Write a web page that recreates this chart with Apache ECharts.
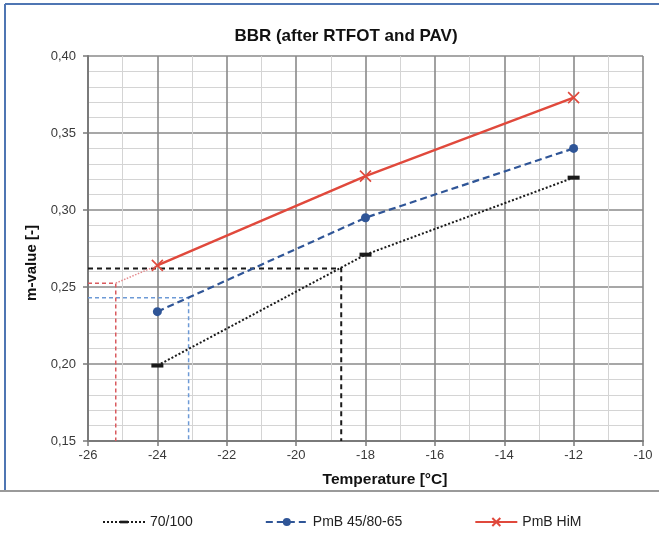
<!DOCTYPE html>
<html>
<head>
<meta charset="utf-8">
<title>BBR (after RTFOT and PAV)</title>
<script src="https://cdn.jsdelivr.net/npm/echarts@6/dist/echarts.min.js"></script>
<style>
  html, body { margin: 0; padding: 0; background: #fff; }
  #chart { width: 659px; height: 535px; }
</style>
</head>
<body>
<div id="chart"></div>
<script>
// Test temperatures (°C) and measured m-values per binder
const temperatures = [-24, -18, -12];
const m70_100 = [0.199, 0.271, 0.321];
const mPmB4580 = [0.234, 0.295, 0.340];
const mPmBHiM = [0.264, 0.322, 0.373];

// Read-off construction: temperature at which each binder reaches its critical m-value
const readOffNames = ['70/100', 'PmB 45/80-65', 'PmB HiM'];
const readOffTemp = [-18.7, -23.1, -25.2];
const readOffM = [0.262, 0.243, 0.2525];

// Axis ranges
const xMin = -26, xMax = -10, xStep = 2;
const yMin = 0.15, yMax = 0.40, yStep = 0.05;

const colBlack = '#1a1a1a';
const colBlue = '#2f5597';
const colRed = '#e0493c';
const helperColors = ['#1a1a1a', '#6d9ad6', '#d95a5e'];
const fontFamily = 'Liberation Sans, Arial, sans-serif';

function pairs(xs, ys) { return xs.map((x, i) => [x, ys[i]]); }

const mainSeries = [
  {
    name: '70/100', type: 'line', data: pairs(temperatures, m70_100),
    lineStyle: { color: colBlack, width: 2, type: 'dotted' },
    // flat dash marker centred in a square box (the extra moves pad the bounds)
    symbol: 'path://M0,0M12,12M0,4H12V8H0Z', symbolSize: 12,
    itemStyle: { color: colBlack }, z: 5
  },
  {
    name: 'PmB 45/80-65', type: 'line', data: pairs(temperatures, mPmB4580),
    lineStyle: { color: colBlue, width: 2.2, type: [7, 4] },
    symbol: 'circle', symbolSize: 9,
    itemStyle: { color: colBlue }, z: 5
  },
  {
    name: 'PmB HiM', type: 'line', data: pairs(temperatures, mPmBHiM),
    lineStyle: { color: colRed, width: 2.5, type: 'solid' },
    symbol: 'path://M0,0L10,10M10,0L0,10', symbolSize: 11, symbolKeepAspect: true,
    itemStyle: { color: colRed, borderColor: colRed, borderWidth: 1.6 }, z: 6
  }
];

// Dashed guide lines: from the y-axis across to the curve, then down to the x-axis
const helperSeries = readOffTemp.map((t, i) => ({
  name: readOffNames[i] + ' guide', type: 'line', silent: true, symbol: 'none',
  data: [[xMin, readOffM[i]], [t, readOffM[i]], [t, yMin]],
  lineStyle: { color: helperColors[i], width: i === 0 ? 2 : 1.5, type: i === 0 ? [5, 4] : [4, 3] },
  z: 3
}));

// Dotted extension of the PmB HiM curve down to its read-off point
helperSeries.push({
  name: 'PmB HiM extension', type: 'line', silent: true, symbol: 'none',
  data: [[readOffTemp[2], readOffM[2]], [temperatures[0], mPmBHiM[0]]],
  lineStyle: { color: '#e58a8d', width: 1.5, type: 'dotted' },
  z: 3
});

const chart = echarts.init(document.getElementById('chart'), null, { renderer: 'canvas' });

chart.setOption({
  backgroundColor: '#ffffff',
  animation: false,
  title: {
    text: 'BBR (after RTFOT and PAV)',
    left: 341, top: 23, textAlign: 'center',
    textStyle: { fontFamily, fontSize: 17, fontWeight: 'bold', color: '#111' }
  },
  grid: { left: 88, right: 16, top: 56, bottom: 94, containLabel: false },
  legend: {
    data: ['70/100', 'PmB 45/80-65', 'PmB HiM'],
    left: 97, top: 510,
    itemWidth: 42, itemHeight: 10, itemGap: 72,
    textStyle: { fontFamily, fontSize: 14, color: '#222' }
  },
  xAxis: {
    type: 'value', min: xMin, max: xMax, interval: xStep,
    name: 'Temperature [°C]', nameLocation: 'middle', nameGap: 31,
    nameTextStyle: { fontFamily, fontSize: 15.5, fontWeight: 'bold', color: '#111', padding: [0, 0, 0, 39] },
    axisLine: { show: true, onZero: false, lineStyle: { color: '#7a7a7a', width: 2 } },
    axisTick: { show: true, length: 5, lineStyle: { color: '#7a7a7a', width: 1.5 } },
    axisLabel: { color: '#3a3a3a', fontSize: 13, fontFamily, margin: 8,
      formatter: v => String(v) },
    splitLine: { show: true, lineStyle: { color: '#8a8a8a', width: 1.6 } },
    minorTick: { show: false, splitNumber: 2 },
    minorSplitLine: { show: true, lineStyle: { color: '#d4d4d4', width: 1 } }
  },
  yAxis: {
    type: 'value', min: yMin, max: yMax, interval: yStep,
    name: 'm-value [-]', nameLocation: 'middle', nameGap: 46,
    nameTextStyle: { fontFamily, fontSize: 15, fontWeight: 'bold', color: '#111', padding: [0, 29, 0, 0] },
    axisLine: { show: true, onZero: false, lineStyle: { color: '#7a7a7a', width: 2 } },
    axisTick: { show: true, length: 5, lineStyle: { color: '#7a7a7a', width: 1.5 } },
    axisLabel: { color: '#3a3a3a', fontSize: 13, fontFamily, margin: 12,
      formatter: v => v.toFixed(2).replace('.', ',') },
    splitLine: { show: true, lineStyle: { color: '#8a8a8a', width: 1.6 } },
    minorTick: { show: false, splitNumber: 5 },
    minorSplitLine: { show: true, lineStyle: { color: '#d4d4d4', width: 1 } }
  },
  graphic: [
    { type: 'line', shape: { x1: 5, y1: 4, x2: 659, y2: 4 }, style: { stroke: '#4f76b3', lineWidth: 2 }, silent: true },
    { type: 'line', shape: { x1: 5, y1: 4, x2: 5, y2: 490 }, style: { stroke: '#4f76b3', lineWidth: 2 }, silent: true },
    { type: 'line', shape: { x1: 0, y1: 491, x2: 659, y2: 491 }, style: { stroke: '#9a9a9a', lineWidth: 2 }, silent: true }
  ],
  series: helperSeries.concat(mainSeries)
});
</script>
</body>
</html>
